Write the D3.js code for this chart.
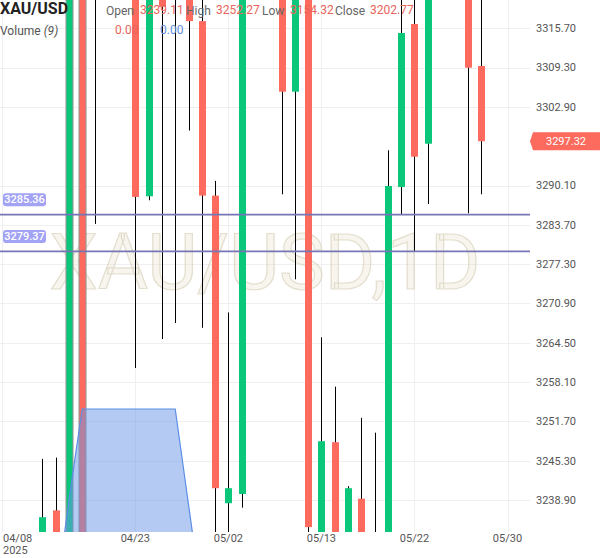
<!DOCTYPE html>
<html><head><meta charset="utf-8">
<script src="https://cdn.jsdelivr.net/npm/d3@7"></script>
<style>body{margin:0;background:#fff}svg{display:block;font-family:Roboto,"Noto Sans",sans-serif}</style>
</head><body><svg id="c" width="600" height="558"></svg>
<script>
// ---- data ----
const dates = ["04/11","04/14","04/15","04/16","04/17","04/21","04/22","04/23","04/24","04/25",
  "04/28","04/29","04/30","05/01","05/02","05/05","05/06","05/07","05/08","05/09",
  "05/12","05/13","05/14","05/15","05/16","05/19","05/20","05/21","05/22","05/23",
  "05/26","05/27","05/28","05/29"];
const open  = [3226.00,3237.21,3205.00,3345.00,3338.00,3326.00,3350.00,3335.00,3288.35,3330.00,
  3321.00,3334.00,3316.87,3288.46,3238.38,3239.88,3332.00,3345.00,3338.00,3305.38,
  3326.00,3231.00,3248.31,3230.00,3239.11,3202.77,3228.00,3289.86,3316.40,3296.91,
  3330.00,3345.00,3330.00,3309.56];
const high  = [3245.59,3245.80,3352.00,3350.00,3345.00,3356.00,3358.00,3340.00,3338.00,3335.00,
  3340.00,3338.00,3324.00,3290.85,3269.44,3336.00,3360.00,3355.00,3342.00,3330.00,
  3332.00,3265.39,3257.35,3241.15,3252.27,3249.86,3295.84,3325.00,3325.00,3340.00,
  3352.00,3350.00,3335.00,3325.00];
const low   = [3220.00,3222.00,3200.00,3205.00,3283.85,3322.00,3325.00,3260.39,3287.70,3265.11,
  3267.72,3299.06,3266.94,3228.00,3230.50,3237.65,3325.00,3328.00,3288.67,3274.83,
  3228.00,3226.00,3220.00,3225.00,3154.32,3195.00,3225.00,3285.42,3279.44,3287.09,
  3324.00,3326.00,3285.58,3288.67];
const close = [3236.10,3228.00,3345.00,3210.00,3326.00,3350.00,3335.00,3288.25,3330.00,3319.20,
  3334.00,3316.87,3288.46,3240.82,3240.82,3332.00,3345.00,3338.00,3305.38,3326.00,
  3234.49,3248.47,3230.00,3240.82,3202.77,3228.00,3290.02,3314.93,3294.79,3335.00,
  3345.00,3330.00,3309.29,3297.32];
// volume overlay (index -> value)
const volIndex = [1,2,3,4,5,6,7,8,9,10,11,12];
const volume   = [0,52,100,100,100,100,100,100,100,100,50,0];
const highlighted = [2,3];
const hLines = [3285.36, 3279.37];
const lastPrice = 3297.32;
const yTicks = [3315.70,3309.30,3302.90,3290.10,3283.70,3277.30,3270.90,3264.50,3258.10,3251.70,3245.30,3238.90];
const xTickSlots = [-3,7,14,21,28,35];
const xTickLabels = ["04/08","04/23","05/02","05/13","05/22","05/30"];
const legendValues = {open:"3239.11", high:"3252.27", low:"3154.32", close:"3202.77"};

// ---- layout ----
const W = 600, H = 558, plotR = 530, plotB = 532;
const UP = "#0bc77a", DOWN = "#fd6a5e";
const svg = d3.select("#c");
const x = d3.scaleLinear().domain([0, 35]).range([42.3, 507.5]);
const y = d3.scaleLinear().domain([3238.90, 3315.70]).range([500, 28.3]);
const yVol = d3.scaleLinear().domain([0, 100]).range([600, 409]);

svg.append("defs").append("clipPath").attr("id","plot")
  .append("rect").attr("x",0).attr("y",0).attr("width",plotR).attr("height",plotB);

// gridlines
const grid = svg.append("g");
grid.selectAll("line.h").data(yTicks).join("line")
  .attr("x1",0).attr("x2",plotR)
  .attr("y1",d=>Math.round(y(d))+0.5).attr("y2",d=>Math.round(y(d))+0.5)
  .attr("stroke","#efefef").attr("stroke-width",1);
grid.selectAll("line.v").data(xTickSlots).join("line")
  .attr("x1",d=>Math.round(x(d))+0.5).attr("x2",d=>Math.round(x(d))+0.5)
  .attr("y1",0).attr("y2",plotB)
  .attr("stroke","#efefef").attr("stroke-width",1);

// watermark
svg.append("text").attr("x",plotR/2).attr("y",289).attr("text-anchor","middle")
  .attr("font-size",77).attr("fill","rgba(232,226,205,0.35)")
  .attr("stroke","rgba(205,196,168,0.5)").attr("stroke-width",1.2)
  .text("XAU/USD,1D");

// candles
const plot = svg.append("g").attr("clip-path","url(#plot)");
const idx = d3.range(open.length);
const cg = plot.selectAll("g.c").data(idx).join("g");
cg.append("line")
  .attr("x1",i=>Math.round(x(i))+0.5).attr("x2",i=>Math.round(x(i))+0.5)
  .attr("y1",i=>y(high[i])).attr("y2",i=>y(low[i]))
  .attr("stroke","#000").attr("stroke-width",1);
cg.append("rect")
  .attr("x",i=>Math.round(x(i))-3).attr("width",7)
  .attr("y",i=>y(Math.max(open[i],close[i])))
  .attr("height",i=>Math.max(1,Math.abs(y(open[i])-y(close[i]))))
  .attr("fill",i=>close[i]>=open[i]?UP:DOWN)
  .attr("stroke",i=>highlighted.includes(i)?"rgba(150,150,150,0.7)":"none")
  .attr("stroke-width",1.5);

// volume area
const vd = volIndex.map((k,j)=>({i:k,v:volume[j]}));
plot.append("path").datum(vd)
  .attr("d",d3.area().x(d=>x(d.i)).y0(yVol(0)).y1(d=>yVol(d.v)))
  .attr("fill","rgba(105,150,230,0.5)");
plot.append("path").datum(vd)
  .attr("d",d3.line().x(d=>x(d.i)).y(d=>yVol(d.v)))
  .attr("fill","none").attr("stroke","#5b8ee6").attr("stroke-width",1.2);

// horizontal lines
const hl = svg.append("g");
hl.selectAll("line").data(hLines).join("line")
  .attr("x1",0).attr("x2",plotR).attr("y1",d=>y(d)).attr("y2",d=>y(d))
  .attr("stroke","#7676b6").attr("stroke-width",1.8);
hl.selectAll("rect").data(hLines).join("rect")
  .attr("x",3).attr("width",43).attr("y",d=>y(d)-21.5).attr("height",13).attr("rx",3)
  .attr("fill","#a3a3f6");
hl.selectAll("text").data(hLines).join("text")
  .attr("x",24.5).attr("y",d=>y(d)-15).attr("dy","0.35em").attr("text-anchor","middle")
  .attr("font-size",11).attr("font-weight",500).attr("fill","#fff")
  .text(d=>d.toFixed(2));

// right axis
const ax = svg.append("g");
ax.selectAll("text").data(yTicks).join("text")
  .attr("x",536).attr("y",d=>y(d)).attr("dy","0.35em")
  .attr("font-size",11).attr("fill","#555").text(d=>d.toFixed(2));
// last price label
const lp = y(lastPrice);
ax.append("path")
  .attr("d",`M530,${lp} L533,${lp-9} L600,${lp-9} L600,${lp+9} L533,${lp+9} Z`)
  .attr("fill",DOWN);
ax.append("text").attr("x",566).attr("y",lp).attr("dy","0.35em").attr("text-anchor","middle")
  .attr("font-size",11).attr("fill","#fff").text(lastPrice.toFixed(2));

// x axis labels
const xa = svg.append("g");
xa.selectAll("text").data(xTickSlots).join("text")
  .attr("x",(d,i)=>i===0?3:x(d)).attr("y",542)
  .attr("text-anchor",(d,i)=>i===0?"start":"middle")
  .attr("font-size",11).attr("fill","#555").text((d,i)=>xTickLabels[i]);
xa.append("text").attr("x",3).attr("y",554).attr("font-size",11).attr("fill","#555").text("2025");

// legend
const lg = svg.append("g");
lg.append("text").attr("x",0).attr("y",13.5).attr("font-size",16).attr("font-weight",700).attr("fill","#222").text("XAU/USD");
const items = [["Open",106,legendValues.open,140],["High",186,legendValues.high,216],
  ["Low",262,legendValues.low,290],["Close",335,legendValues.close,370]];
items.forEach(([k,kx,v,vx])=>{
  lg.append("text").attr("x",kx).attr("y",15).attr("font-size",12).attr("fill","#666").text(k);
  lg.append("text").attr("x",vx).attr("y",14).attr("font-size",12).attr("fill","#e8645a").text(v);
});
const vt = lg.append("text").attr("x",0).attr("y",35).attr("font-size",12).attr("fill","#555");
vt.append("tspan").text("Volume ");
vt.append("tspan").attr("font-style","italic").text("(9)");
lg.append("text").attr("x",115).attr("y",34).attr("font-size",12).attr("fill","#e8645a").text("0.00");
lg.append("text").attr("x",160).attr("y",34).attr("font-size",12).attr("fill","#5b8ee6").text("0.00");
</script></body></html>
